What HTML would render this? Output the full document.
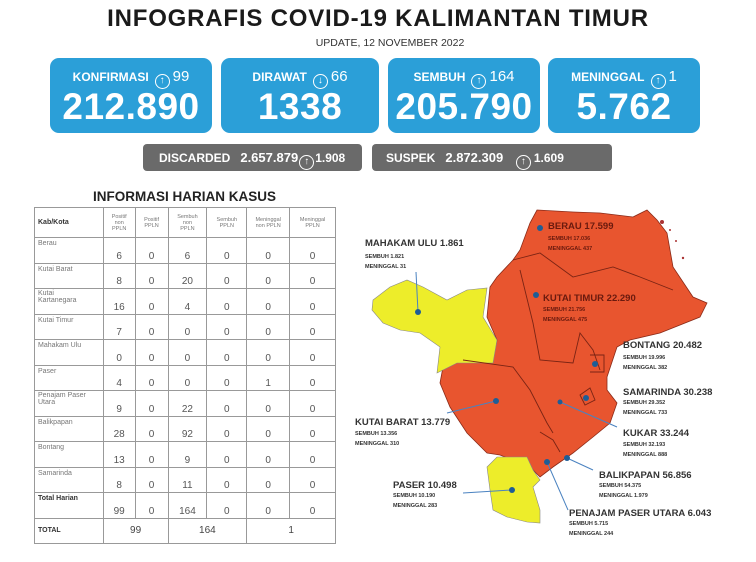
<!DOCTYPE html>
<html><head><meta charset="utf-8"><style>
*{margin:0;padding:0;box-sizing:border-box}
body{width:756px;height:562px;background:#fff;position:relative;overflow:hidden;font-family:"Liberation Sans",sans-serif}
.a{position:absolute}
.card{position:absolute;top:58px;height:75px;background:#2b9fd8;border-radius:9px;color:#fff;text-align:center}
.card .l{position:absolute;top:10px;left:0;right:0;font-size:12px;font-weight:bold;white-space:nowrap}
.card .n{position:absolute;top:28px;left:0;right:0;font-size:37px;font-weight:bold;letter-spacing:0.5px}
.circ{display:inline-block;width:15px;height:15px;border:1.5px solid #fff;border-radius:50%;font-size:10px;line-height:12px;text-align:center;vertical-align:-2px;margin:0 3px 0 6px}
.grey{position:absolute;top:144px;height:27px;background:#6a6a6a;border-radius:4px;color:#fff;font-size:12px;font-weight:bold;line-height:27px;white-space:nowrap}
table{position:absolute;left:34px;top:207px;width:302px;border-collapse:collapse;font-size:7px;color:#777}
td{border:1px solid #999;vertical-align:top;padding:2px 3px}
.h td{height:30px;text-align:center;font-size:5.5px;vertical-align:middle}
.r td{height:25.5px}
.r td.v{text-align:center;vertical-align:bottom;font-size:10px;color:#555;padding-bottom:1px}
</style></head><body>
<div class="a" style="left:0;width:756px;top:5px;text-align:center;font-size:24px;font-weight:bold;color:#1a1a1a;letter-spacing:0.8px">INFOGRAFIS COVID-19 KALIMANTAN TIMUR</div>
<div class="a" style="left:0;width:780px;top:37px;text-align:center;font-size:10.5px;color:#333">UPDATE, 12 NOVEMBER 2022</div>

<div class="card" style="left:50px;width:162px"><div class="l">KONFIRMASI<span class="circ">↑</span><span style="font-size:15px;font-weight:normal">99</span></div><div class="n">212.890</div></div>
<div class="card" style="left:221px;width:158px"><div class="l">DIRAWAT<span class="circ">↓</span><span style="font-size:15px;font-weight:normal">66</span></div><div class="n">1338</div></div>
<div class="card" style="left:388px;width:152px"><div class="l">SEMBUH<span class="circ">↑</span><span style="font-size:15px;font-weight:normal">164</span></div><div class="n">205.790</div></div>
<div class="card" style="left:548px;width:152px"><div class="l">MENINGGAL<span class="circ">↑</span><span style="font-size:15px;font-weight:normal">1</span></div><div class="n">5.762</div></div>

<div class="grey" style="left:143px;width:219px;padding-left:16px">DISCARDED &nbsp; <span style="font-size:13px">2.657.879</span><span class="circ" style="margin:0 1px">↑</span>1.908</div>
<div class="grey" style="left:372px;width:240px;padding-left:14px">SUSPEK &nbsp; <span style="font-size:13px">2.872.309</span> &nbsp;<span class="circ">↑</span>1.609</div>

<div class="a" style="left:93px;top:189px;font-size:13.5px;font-weight:bold;color:#222">INFORMASI HARIAN KASUS</div>
<table>
<colgroup><col style="width:69px"><col style="width:32px"><col style="width:33px"><col style="width:39px"><col style="width:40px"><col style="width:43px"><col style="width:46px"></colgroup>
<tr class="h"><td style="text-align:left;font-size:7px;font-weight:bold;color:#333">Kab/Kota</td><td>Positif<br>non<br>PPLN</td><td>Positif<br>PPLN</td><td>Sembuh<br>non<br>PPLN</td><td>Sembuh<br>PPLN</td><td>Meninggal<br>non PPLN</td><td>Meninggal<br>PPLN</td></tr>
<tr class="r"><td>Berau</td><td class="v">6</td><td class="v">0</td><td class="v">6</td><td class="v">0</td><td class="v">0</td><td class="v">0</td></tr>
<tr class="r"><td>Kutai Barat</td><td class="v">8</td><td class="v">0</td><td class="v">20</td><td class="v">0</td><td class="v">0</td><td class="v">0</td></tr>
<tr class="r"><td style="padding-top:1px">Kutai<br>Kartanegara</td><td class="v">16</td><td class="v">0</td><td class="v">4</td><td class="v">0</td><td class="v">0</td><td class="v">0</td></tr>
<tr class="r"><td>Kutai Timur</td><td class="v">7</td><td class="v">0</td><td class="v">0</td><td class="v">0</td><td class="v">0</td><td class="v">0</td></tr>
<tr class="r"><td>Mahakam Ulu</td><td class="v">0</td><td class="v">0</td><td class="v">0</td><td class="v">0</td><td class="v">0</td><td class="v">0</td></tr>
<tr class="r"><td>Paser</td><td class="v">4</td><td class="v">0</td><td class="v">0</td><td class="v">0</td><td class="v">1</td><td class="v">0</td></tr>
<tr class="r"><td style="padding-top:1px">Penajam Paser<br>Utara</td><td class="v">9</td><td class="v">0</td><td class="v">22</td><td class="v">0</td><td class="v">0</td><td class="v">0</td></tr>
<tr class="r"><td>Balikpapan</td><td class="v">28</td><td class="v">0</td><td class="v">92</td><td class="v">0</td><td class="v">0</td><td class="v">0</td></tr>
<tr class="r"><td>Bontang</td><td class="v">13</td><td class="v">0</td><td class="v">9</td><td class="v">0</td><td class="v">0</td><td class="v">0</td></tr>
<tr class="r"><td>Samarinda</td><td class="v">8</td><td class="v">0</td><td class="v">11</td><td class="v">0</td><td class="v">0</td><td class="v">0</td></tr>
<tr class="r"><td style="font-weight:bold;color:#333">Total Harian</td><td class="v">99</td><td class="v">0</td><td class="v">164</td><td class="v">0</td><td class="v">0</td><td class="v">0</td></tr>
<tr class="r"><td style="font-weight:bold;color:#333;vertical-align:middle">TOTAL</td><td colspan="2" style="text-align:center;vertical-align:middle;font-size:10px;color:#444">99</td><td colspan="2" style="text-align:center;vertical-align:middle;font-size:10px;color:#444">164</td><td colspan="2" style="text-align:center;vertical-align:middle;font-size:10px;color:#444">1</td></tr>
</table>

<svg class="a" style="left:0;top:0" width="756" height="562" viewBox="0 0 756 562">
<polygon fill="#e8552f" stroke="#8a2a18" stroke-width="0.8" points="537,210 573,212 600,213 633,217 647,210 657,220 667,233 673,267 693,297 707,303 700,317 660,333 630,340 617,347 607,377 607,390 617,403 610,423 593,437 573,453 553,467 540,477 530,467 500,455 487,453 467,433 450,407 440,383 443,367 463,360 493,357 497,340 487,317 490,287 497,277 513,260 520,250 530,223"/>
<polygon fill="#eded2a" stroke="#888" stroke-width="0.6" points="373,300 390,287 407,280 423,287 447,300 467,290 487,288 483,317 497,340 493,363 457,363 437,373 440,347 420,333 400,330 383,323 372,310"/>
<polygon fill="#eded2a" stroke="#888" stroke-width="0.6" points="497,457 527,457 533,470 540,480 533,487 540,510 540,523 527,522 507,517 493,510 490,490 487,467"/>
<g fill="none" stroke="#7a2414" stroke-width="0.9">
<polyline points="513,260 540,253 573,277 613,267 640,277 673,290"/>
<polyline points="520,270 533,323 540,360 573,363 580,333 593,350 600,370"/>
<polyline points="463,360 513,367 530,390 547,423 553,433"/>
<polyline points="540,432 553,440 560,452"/>
<polygon points="580,395 590,388 595,400 585,405"/>
<polyline points="590,355 604,355 604,372 590,372"/>
</g>
<g fill="#a33" ><circle cx="662" cy="222" r="2"/><circle cx="670" cy="230" r="1"/><circle cx="676" cy="241" r="1"/><circle cx="683" cy="258" r="1.2"/></g>
<g stroke="#4a82c0" stroke-width="1"><line x1="416" y1="272" x2="418" y2="312"/><line x1="447" y1="413" x2="496" y2="401"/><line x1="463" y1="493" x2="512" y2="490"/><line x1="593" y1="470" x2="567" y2="458"/><line x1="568" y1="510" x2="547" y2="462"/><line x1="617" y1="427" x2="560" y2="402"/></g>
<g fill="#1e5d96"><circle cx="540" cy="228" r="3"/><circle cx="418" cy="312" r="3"/><circle cx="536" cy="295" r="3"/><circle cx="595" cy="364" r="3"/><circle cx="586" cy="398" r="3"/><circle cx="560" cy="402" r="2.5"/><circle cx="496" cy="401" r="3"/><circle cx="567" cy="458" r="3"/><circle cx="547" cy="462" r="3"/><circle cx="512" cy="490" r="3"/></g>
<g font-family="Liberation Sans, sans-serif" fill="#333">
<g font-size="9.5" font-weight="bold">
<text x="365" y="246">MAHAKAM ULU  1.861</text>
<text x="548" y="229" fill="#6a1a0e">BERAU  17.599</text>
<text x="543" y="301" fill="#6a1a0e">KUTAI TIMUR 22.290</text>
<text x="623" y="348">BONTANG  20.482</text>
<text x="623" y="395">SAMARINDA  30.238</text>
<text x="623" y="436">KUKAR 33.244</text>
<text x="355" y="425">KUTAI BARAT 13.779</text>
<text x="599" y="478">BALIKPAPAN  56.856</text>
<text x="393" y="488">PASER  10.498</text>
<text x="569" y="516">PENAJAM PASER UTARA 6.043</text>
</g>
<g font-size="5.5" font-weight="bold">
<text x="365" y="258">SEMBUH 1.821</text><text x="365" y="268">MENINGGAL 31</text>
<text x="548" y="240" fill="#6a1a0e">SEMBUH 17.036</text><text x="548" y="250" fill="#6a1a0e">MENINGGAL 437</text>
<text x="543" y="311" fill="#6a1a0e">SEMBUH 21.756</text><text x="543" y="321" fill="#6a1a0e">MENINGGAL 475</text>
<text x="623" y="359">SEMBUH 19.996</text><text x="623" y="369">MENINGGAL 382</text>
<text x="623" y="404">SEMBUH 29.352</text><text x="623" y="414">MENINGGAL 733</text>
<text x="623" y="446">SEMBUH 32.193</text><text x="623" y="456">MENINGGAL 888</text>
<text x="355" y="435">SEMBUH 13.356</text><text x="355" y="445">MENINGGAL 310</text>
<text x="599" y="487">SEMBUH 54.375</text><text x="599" y="497">MENINGGAL 1.979</text>
<text x="393" y="497">SEMBUH 10.190</text><text x="393" y="507">MENINGGAL 283</text>
<text x="569" y="525">SEMBUH 5.715</text><text x="569" y="535">MENINGGAL 244</text>
</g></g>
</svg>
</body></html>
